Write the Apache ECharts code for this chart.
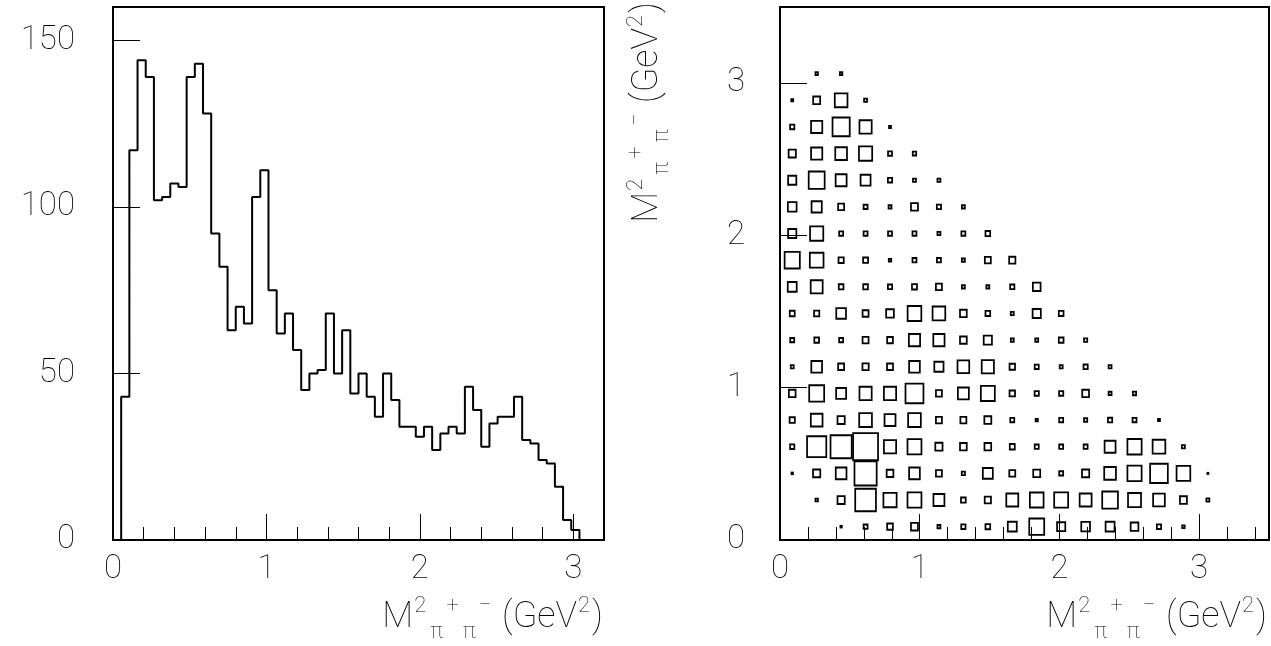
<!DOCTYPE html>
<html><head><meta charset="utf-8">
<script src="https://cdn.jsdelivr.net/npm/echarts@6/dist/echarts.min.js"></script>
<style>html,body{margin:0;padding:0;background:#fff}#c{width:1271px;height:646px}</style>
</head><body><div id="c"></div>
<script>
// ---------- data ----------
// Left: 1D histogram of M^2(pi+pi-), 60 bins over [0, 3.2] GeV^2
const histRange = [0, 3.2];
const histCounts = [
  0, 43, 117, 144, 139, 102, 103, 107, 106, 139,
  143, 128, 92, 82, 63, 70, 65, 103, 111, 75,
  62, 68, 57, 45, 50, 51, 68, 50, 63, 44,
  50, 43, 37, 50, 42, 34, 34, 31, 34, 27,
  32, 34, 32, 46, 39, 28, 35, 37, 37, 43,
  30, 29, 24, 23, 16, 6, 3, 0, 0, 0
];
const histXTicks = [0, 1, 2, 3];
const histYTicks = [0, 50, 100, 150];

// Right: 2D box plot, 20 x 20 cells over [0, 3.5] x [0, 3.5]
const boxRange = [0, 3.5];
const boxBins = 20;
// boxCounts[row][col], row 0 = lowest y bin
const boxCounts = [
  [0, 0, 6, 16, 23, 28, 12, 17, 19, 36, 60, 33, 35, 36, 31, 17, 10, 0, 0, 0],
  [0, 10, 29, 83, 53, 56, 44, 19, 25, 48, 55, 56, 48, 63, 52, 47, 28, 12, 0, 0],
  [6, 29, 43, 89, 27, 43, 24, 13, 40, 24, 28, 16, 29, 47, 57, 71, 55, 4, 0, 0],
  [17, 77, 85, 100, 49, 56, 29, 27, 27, 20, 16, 16, 16, 44, 57, 51, 12, 0, 0, 0],
  [21, 47, 29, 51, 44, 51, 24, 24, 28, 16, 9, 16, 13, 17, 16, 8, 0, 0, 0, 0],
  [27, 60, 40, 49, 49, 72, 24, 44, 56, 22, 17, 17, 27, 12, 13, 0, 0, 0, 0, 0],
  [12, 43, 24, 25, 24, 43, 37, 47, 49, 22, 16, 12, 17, 12, 0, 0, 0, 0, 0, 0],
  [16, 19, 16, 24, 23, 45, 45, 27, 33, 12, 12, 19, 13, 0, 0, 0, 0, 0, 0, 0],
  [20, 21, 39, 24, 31, 55, 51, 27, 19, 12, 33, 19, 0, 0, 0, 0, 0, 0, 0, 0],
  [36, 48, 19, 19, 17, 20, 24, 12, 12, 17, 31, 0, 0, 0, 0, 0, 0, 0, 0, 0],
  [61, 55, 21, 20, 10, 16, 16, 12, 24, 25, 0, 0, 0, 0, 0, 0, 0, 0, 0, 0],
  [33, 53, 16, 16, 16, 16, 12, 16, 19, 0, 0, 0, 0, 0, 0, 0, 0, 0, 0, 0],
  [35, 41, 24, 16, 12, 28, 17, 12, 0, 0, 0, 0, 0, 0, 0, 0, 0, 0, 0, 0],
  [33, 64, 44, 40, 17, 12, 12, 0, 0, 0, 0, 0, 0, 0, 0, 0, 0, 0, 0, 0],
  [29, 45, 47, 53, 16, 14, 0, 0, 0, 0, 0, 0, 0, 0, 0, 0, 0, 0, 0, 0],
  [17, 45, 69, 49, 8, 0, 0, 0, 0, 0, 0, 0, 0, 0, 0, 0, 0, 0, 0, 0],
  [8, 28, 51, 12, 0, 0, 0, 0, 0, 0, 0, 0, 0, 0, 0, 0, 0, 0, 0, 0],
  [0, 10, 10, 0, 0, 0, 0, 0, 0, 0, 0, 0, 0, 0, 0, 0, 0, 0, 0, 0],
  [0, 0, 0, 0, 0, 0, 0, 0, 0, 0, 0, 0, 0, 0, 0, 0, 0, 0, 0, 0],
  [0, 0, 0, 0, 0, 0, 0, 0, 0, 0, 0, 0, 0, 0, 0, 0, 0, 0, 0, 0]
];
const boxTicks = [0, 1, 2, 3];

// ---------- build ----------
const FONT = 'Roboto';
const FW = 100;
const binW = (histRange[1] - histRange[0]) / histCounts.length;
const histData = histCounts.map((v, i) => [histRange[0] + i * binW, v]);
histData.push([histRange[1], 0]);

const cellU = (boxRange[1] - boxRange[0]) / boxBins;
let boxMax = 0;
const boxData = [];
boxCounts.forEach((row, r) => row.forEach((v, c) => {
  if (v > 0) {
    boxData.push([boxRange[0] + (c + 0.5) * cellU, boxRange[0] + (r + 0.5) * cellU, v]);
    boxMax = Math.max(boxMax, v);
  }
}));

const G0 = {left: 113, top: 7, width: 491, height: 533};
const G1 = {left: 780, top: 7, width: 489, height: 533};
const cellPxW = G1.width / boxBins, cellPxH = G1.height / boxBins;

const labelStyle = {fontFamily: FONT, fontWeight: FW, fontSize: 33, color: '#000'};
const majorTick = len => ({show: true, inside: true, length: len, lineStyle: {color: '#000', width: 1}});
function xMajor(grid, range, ticks) {
  return {
    type: 'value', gridIndex: grid, position: 'bottom', min: range[0], max: range[1], interval: 1,
    axisLine: {show: false}, splitLine: {show: false},
    axisTick: majorTick(26),
    axisLabel: Object.assign({margin: 13, showMaxLabel: false,
      formatter: v => ticks.includes(v) ? String(v) : ''}, labelStyle)
  };
}
function xMinor(grid, range) {
  return {
    type: 'value', gridIndex: grid, position: 'bottom', offset: 0, min: range[0], max: range[1], interval: 0.2,
    axisLine: {show: false}, splitLine: {show: false}, axisLabel: {show: false},
    axisTick: majorTick(13)
  };
}

const rich = {
  m: {fontFamily: FONT, fontWeight: FW, fontSize: 36, lineHeight: 50, verticalAlign: 'middle', fill: '#000', color: '#000'},
  sp: {fontFamily: FONT, fontWeight: FW, fontSize: 22, verticalAlign: 'top', fill: '#000', color: '#000', padding: [2, 2, 0, 1]},
  sb: {fontFamily: FONT, fontWeight: FW, fontSize: 22, verticalAlign: 'bottom', fill: '#000', color: '#000', padding: [0, 2, 0, 2]}
};
const titleText = '{m|M}{sp|2}{sb|π}{sp|+}{sb|π}{sp|−}{m| (GeV}{sp|2}{m|)}';
function title(x, y, rot, align) {
  return {type: 'text', x: x, y: y, rotation: rot, silent: true,
    style: {text: titleText, rich: rich, align: align, verticalAlign: 'middle', fill: '#000',
      font: FW + ' 36px ' + FONT}};
}

const option = {
  animation: false,
  backgroundColor: '#fff',
  grid: [
    Object.assign({show: true, borderColor: '#000', borderWidth: 2, containLabel: false}, G0),
    Object.assign({show: true, borderColor: '#000', borderWidth: 2, containLabel: false}, G1)
  ],
  xAxis: [
    xMajor(0, histRange, histXTicks),
    xMinor(0, histRange),
    xMajor(1, boxRange, boxTicks),
    xMinor(1, boxRange)
  ],
  yAxis: [
    {type: 'value', gridIndex: 0, min: 0, max: 160, interval: 50,
      axisLine: {show: false}, splitLine: {show: false}, axisTick: majorTick(27),
      axisLabel: Object.assign({margin: 38, showMaxLabel: false,
        formatter: v => histYTicks.includes(v) ? String(v) : ''}, labelStyle)},
    {type: 'value', gridIndex: 1, min: boxRange[0], max: boxRange[1], interval: 1,
      axisLine: {show: false}, splitLine: {show: false}, axisTick: majorTick(27),
      axisLabel: Object.assign({margin: 35, showMaxLabel: false,
        formatter: v => boxTicks.includes(v) ? String(v) : ''}, labelStyle)}
  ],
  series: [
    {type: 'line', xAxisIndex: 0, yAxisIndex: 0, step: 'end', symbol: 'none',
      data: histData, lineStyle: {color: '#000', width: 2}, z: 3},
    {type: 'scatter', xAxisIndex: 2, yAxisIndex: 1, symbol: 'rect',
      data: boxData,
      symbolSize: v => [Math.max(1, v[2] / boxMax * (cellPxW + 0.5)), Math.max(1, v[2] / boxMax * (cellPxH + 0.5))],
      itemStyle: {color: 'rgba(255,255,255,0)', borderColor: '#000', borderWidth: 1.8, opacity: 1},
      emphasis: {disabled: true}, z: 3}
  ],
  graphic: [
    title(603, 618, 0, 'right'),
    title(1267, 618, 0, 'right'),
    title(648, 2, Math.PI / 2, 'right')
  ]
};
const chart = echarts.init(document.getElementById('c'), null, {renderer: 'canvas'});
chart.setOption(option);
</script>
</body></html>
